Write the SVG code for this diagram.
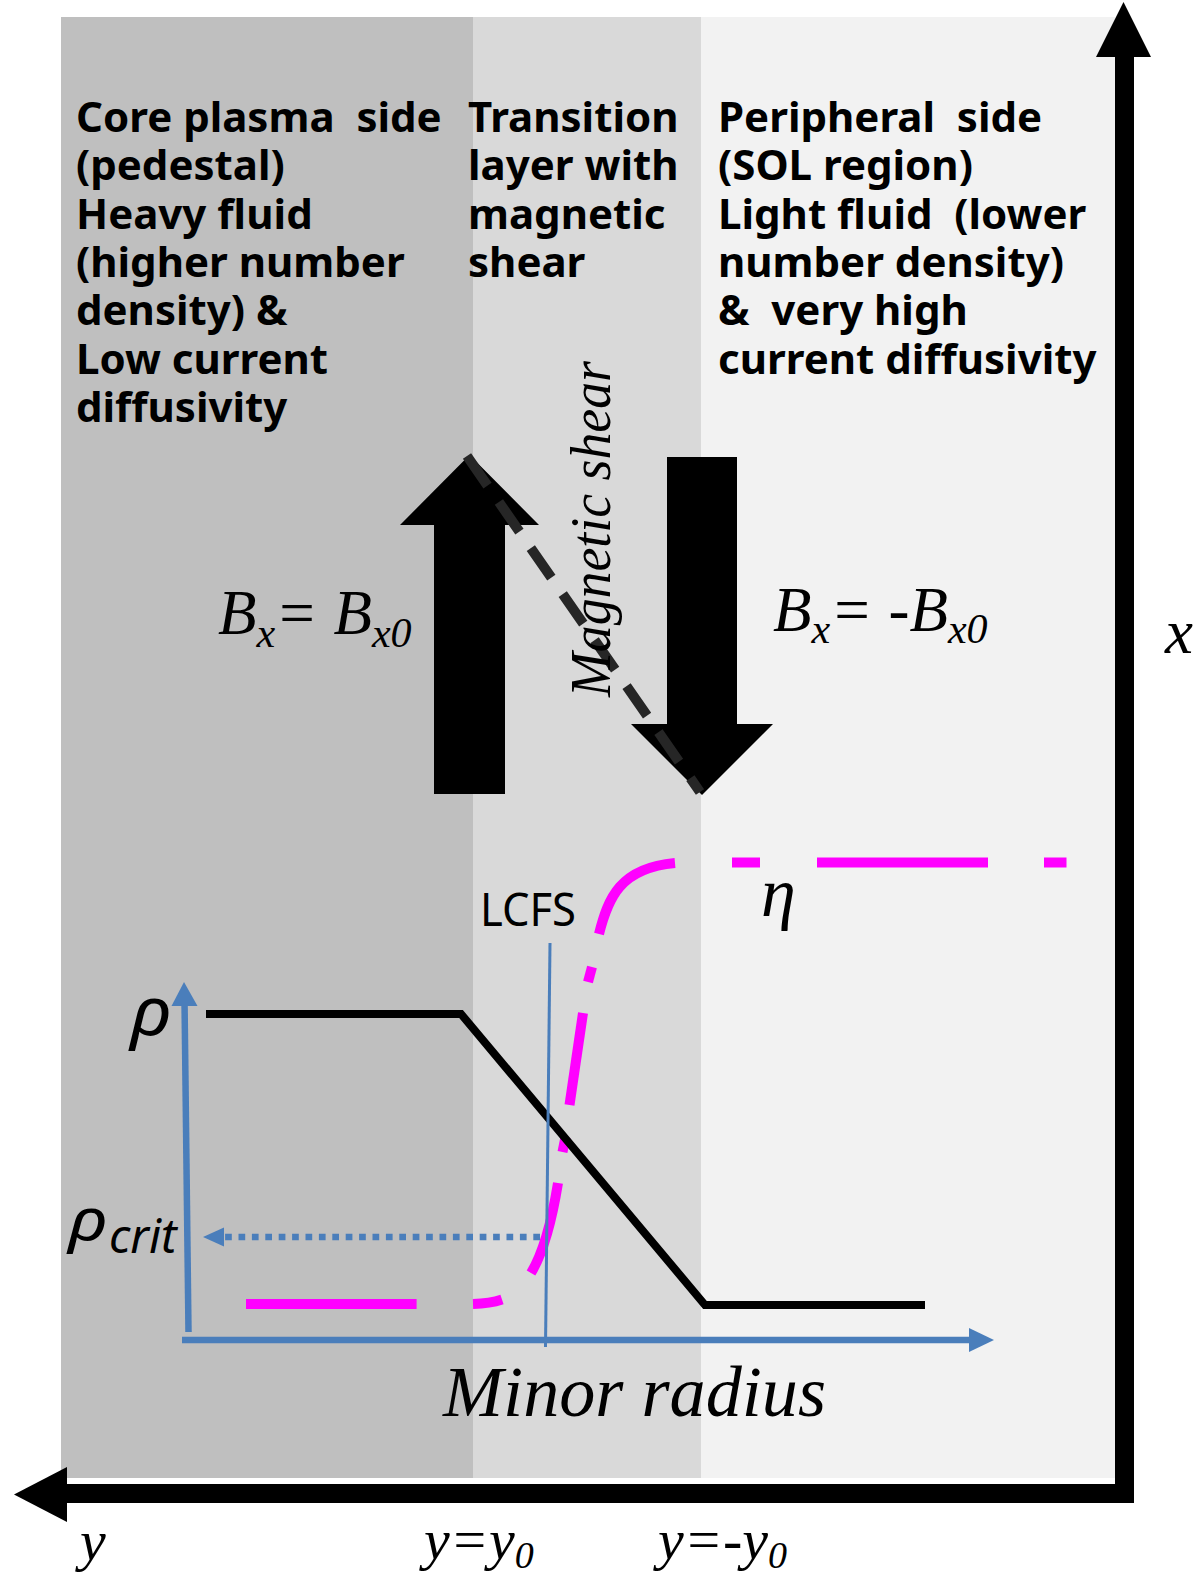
<svg xmlns="http://www.w3.org/2000/svg" width="1199" height="1579" viewBox="0 0 1199 1579">
<style>
.region{font-family:"Noto Sans","Open Sans","DejaVu Sans",sans-serif;font-weight:bold;font-size:42px;fill:#000}
.math{font-family:"Liberation Serif","Times New Roman",serif;font-style:italic;fill:#000}
.sans{font-family:"Noto Sans","Open Sans",sans-serif}
.eta{fill:none;stroke:#ff00ff;stroke-width:10;stroke-linecap:butt}
.blue{stroke:#4a7ebb;fill:none}
</style>
<rect width="1199" height="1579" fill="#ffffff"/>
<g id="bands">
<rect x="61" y="17" width="412" height="1461" fill="#bfbfbf"/>
<rect x="473" y="17" width="228" height="1461" fill="#d9d9d9"/>
<rect x="701" y="17" width="414" height="1461" fill="#f2f2f2"/>
</g>
<g id="core-label">
<text class="region" xml:space="preserve"><tspan x="76" y="132">Core plasma  side</tspan><tspan x="76" y="180">(pedestal)</tspan><tspan x="76" y="228.5">Heavy fluid</tspan><tspan x="76" y="277">(higher number</tspan><tspan x="76" y="325">density) &amp;</tspan><tspan x="76" y="373.5">Low current</tspan><tspan x="76" y="422">diffusivity</tspan></text>
</g>
<g id="transition-label">
<text class="region"><tspan x="468" y="132">Transition</tspan><tspan x="468" y="180">layer with</tspan><tspan x="468" y="228.5">magnetic</tspan><tspan x="468" y="277">shear</tspan></text>
</g>
<g id="peripheral-label">
<text class="region" xml:space="preserve"><tspan x="718" y="132">Peripheral  side</tspan><tspan x="718" y="180">(SOL region)</tspan><tspan x="718" y="228.5">Light fluid  (lower</tspan><tspan x="718" y="277">number density)</tspan><tspan x="718" y="325">&amp;  very high</tspan><tspan x="718" y="373.5">current diffusivity</tspan></text>
</g>
<g id="arrow-up">
<polygon points="434,794 434,525 400,525 469.5,455 539,525 505,525 505,794" fill="#000"/>
</g>
<g id="arrow-down">
<polygon points="667,457 737,457 737,724 773,724 702,795 631,724 667,724" fill="#000"/>
</g>
<g id="connectors">
<line id="shear-line" x1="467" y1="456" x2="700" y2="792" stroke="#262626" stroke-width="10" stroke-dasharray="36 20"/>
<g id="eta-curve">
<path class="eta" d="M246 1304 H416.6"/>
<path class="eta" d="M473 1304 Q490 1303.5 502 1299.5"/>
<path class="eta" d="M531 1273 Q548 1245 558 1183"/>
<path class="eta" d="M562.5 1152 L565.5 1137"/>
<path class="eta" d="M569.5 1105 L583 1013"/>
<path class="eta" d="M588 982 L592 967"/>
<path class="eta" d="M599 934 C608 898 620 868 675 863"/>
<path class="eta" d="M732 862.5 H760"/>
<path class="eta" d="M817 862.5 H988"/>
<path class="eta" d="M1044 862.5 H1066.5"/>
</g>
<polyline id="rho-curve" points="206,1014 461,1014 705,1305 925,1305" fill="none" stroke="#000" stroke-width="8" stroke-linejoin="miter"/>
<line id="lcfs-line" x1="550" y1="943" x2="545.5" y2="1347" stroke="#4a7ebb" stroke-width="3"/>
<g id="rho-crit-arrow">
<line x1="540" y1="1237" x2="223" y2="1237" stroke="#4a7ebb" stroke-width="6.5" stroke-dasharray="6.7 6.7"/>
<polygon points="203,1237 224,1227.5 224,1246.5" fill="#4a7ebb"/>
</g>
<g id="plot-axes">
<line x1="188.5" y1="1332" x2="184.5" y2="1000" stroke="#4a7ebb" stroke-width="6.5"/>
<polygon points="184,982 171.5,1006 197.5,1006" fill="#4a7ebb"/>
<line x1="182" y1="1340" x2="971" y2="1340" stroke="#4a7ebb" stroke-width="6.5"/>
<polygon points="994,1340 969,1328 969,1352" fill="#4a7ebb"/>
</g>
<g id="main-axes">
<path d="M66 1493.5 H1124.5 V56" fill="none" stroke="#000" stroke-width="19" stroke-linejoin="miter"/>
<polygon points="14,1494.5 67,1467 67,1522" fill="#000"/>
<polygon points="1123.5,2 1096,57 1151,57" fill="#000"/>
</g>
</g>
<g id="shear-text">
<text class="math" font-size="56" text-anchor="middle" transform="translate(610,529) rotate(-90)" textLength="336" lengthAdjust="spacingAndGlyphs">Magnetic shear</text>
</g>
<g id="bx-left">
<text class="math" x="218" y="634" font-size="63">B<tspan font-size="42" dy="13">x</tspan><tspan dy="-13">= B</tspan><tspan font-size="42" dy="13">x0</tspan></text>
</g>
<g id="bx-right">
<text class="math" x="773" y="631" font-size="63">B<tspan font-size="42" dy="12">x</tspan><tspan dy="-12">= -B</tspan><tspan font-size="42" dy="12">x0</tspan></text>
</g>
<g id="lcfs-label">
<text class="sans" x="480" y="926" font-size="46" textLength="96" lengthAdjust="spacingAndGlyphs" fill="#000">LCFS</text>
</g>
<g id="eta-label">
<text class="math" x="761" y="916" font-size="70" fill="#ff00ff">η</text>
</g>
<g id="rho-label">
<text class="sans" font-size="68" font-style="italic" fill="#000" transform="translate(130,1035) scale(1.12,1)">ρ</text>
</g>
<g id="rho-crit-label">
<text class="sans" font-size="58" font-style="italic" fill="#000" transform="translate(68,1240) scale(1.25,1)">ρ</text>
<text class="sans" x="109" y="1253" font-size="47" font-style="italic" fill="#000">crit</text>
</g>
<g id="minor-radius-label">
<text class="math" x="443" y="1416" font-size="71" textLength="383" lengthAdjust="spacingAndGlyphs">Minor radius</text>
</g>
<g id="axis-labels">
<text class="math" x="1165" y="653" font-size="63">x</text>
<text class="math" x="80" y="1560" font-size="58">y</text>
<text class="math" x="424" y="1559" font-size="58">y=y<tspan font-size="38" dy="9">0</tspan></text>
<text class="math" x="658" y="1559" font-size="58">y=-y<tspan font-size="38" dy="9">0</tspan></text>
</g>
</svg>
